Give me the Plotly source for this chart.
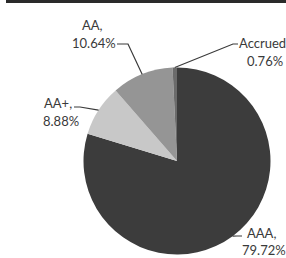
import math
import plotly.graph_objects as go

# ---- data ----
labels = ["AAA", "AA+", "AA", "Accrued"]
values = [79.72, 8.88, 10.64, 0.76]
colors = ["#3c3c3c", "#c8c8c8", "#959595", "#6b6b6b"]

# label layout: pixel centres of the name line and value line, elbow points
name_pos = {
    "AAA": (261, 233),
    "AA+": (58, 103),
    "AA": (92, 25),
    "Accrued": (262, 43),
}
value_pos = {
    "AAA": (264, 249.5),
    "AA+": (61, 121),
    "AA": (94, 43),
    "Accrued": (265, 61),
}
elbows = {
    "AAA": [(237, 236), (242, 236)],
    "AA+": [(80, 107), (74, 107)],
    "AA": [(128, 44), (117, 44)],
    "Accrued": [(233, 44), (238, 44)],
}

W, H = 286, 258
CX, CY, R = 177, 161, 93.5
FONT = dict(family="Lato", size=13, color="#3a3a3a")


def px(x):
    return x / W


def py(y):
    return 1 - y / H


fig = go.Figure()
fig.add_trace(go.Pie(
    labels=labels,
    values=values,
    sort=False,
    direction="clockwise",
    rotation=0,
    marker=dict(colors=colors, line=dict(width=0)),
    textinfo="none",
    hoverinfo="skip",
    showlegend=False,
    domain=dict(x=[px(CX - R), px(CX + R)], y=[py(CY + R), py(CY - R)]),
))

total = sum(values)
cum = 0.0
annotations = []
shapes = []
for lab, v in zip(labels, values):
    mid = (cum + v / 2) / total * 2 * math.pi
    cum += v
    ex = CX + R * math.sin(mid)
    ey = CY - R * math.cos(mid)
    pts = [(ex, ey)] + elbows[lab]
    path = "M " + " L ".join(f"{px(x):.5f},{py(y):.5f}" for x, y in pts)
    shapes.append(dict(type="path", xref="paper", yref="paper", path=path,
                       line=dict(color="#3a3a3a", width=1.2)))
    nx, ny = name_pos[lab]
    vx, vy = value_pos[lab]
    annotations.append(dict(
        x=px(nx), y=py(ny), xref="paper", yref="paper",
        text=f"{lab}," if lab != "Accrued" else lab,
        showarrow=False, xanchor="center", yanchor="middle",
        borderpad=0, font=FONT,
    ))
    annotations.append(dict(
        x=px(vx), y=py(vy), xref="paper", yref="paper",
        text=f"{v:.2f}%",
        showarrow=False, xanchor="center", yanchor="middle",
        borderpad=0, font=FONT,
    ))

# dark title band at the top (cut off)
shapes.append(dict(type="rect", xref="paper", yref="paper",
                   x0=px(6), x1=1, y0=py(3), y1=1,
                   fillcolor="#2a2a2a", line=dict(width=0)))

fig.update_layout(
    width=W, height=H,
    margin=dict(l=0, r=0, t=0, b=0),
    paper_bgcolor="white",
    plot_bgcolor="white",
    shapes=shapes,
    annotations=annotations,
)

fig.write_html(
    "out.html",
    config={"displayModeBar": False},
    post_script="document.body.style.margin='0';document.body.style.overflow='hidden';",
)
